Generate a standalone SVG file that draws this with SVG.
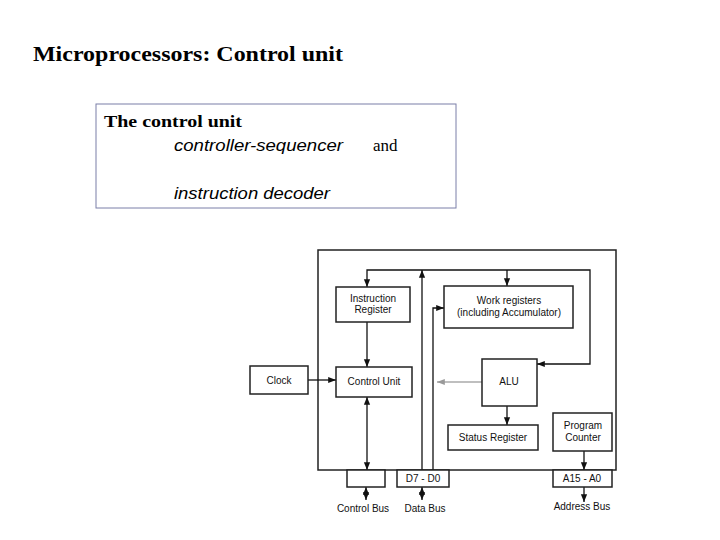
<svg xmlns="http://www.w3.org/2000/svg" width="720" height="540" viewBox="0 0 720 540">
<defs>
<marker id="a" viewBox="0 0 10 10" refX="10" refY="5" markerWidth="6" markerHeight="6" orient="auto-start-reverse"><path d="M0,1 L10,5 L0,9 z" fill="#111"/></marker>
<marker id="g" viewBox="0 0 10 10" refX="10" refY="5" markerWidth="6" markerHeight="6" orient="auto"><path d="M0,1 L10,5 L0,9 z" fill="#999"/></marker>
<style>
.s{font-family:"Liberation Serif",serif;fill:#000}
.i{font-family:"Liberation Sans",Arial,sans-serif;font-style:italic;font-size:16px;fill:#000}
.b{fill:#fff;stroke:#222;stroke-width:1.5}
.t{font-family:"Liberation Sans",Arial,sans-serif;font-size:10px;fill:#111;text-anchor:middle}
.l{fill:none;stroke:#111;stroke-width:1.3}
</style>
</defs>
<rect width="720" height="540" fill="#fff"/>
<text class="s" x="33" y="61" font-size="22" font-weight="bold" textLength="310" lengthAdjust="spacingAndGlyphs">Microprocessors: Control unit</text>
<rect x="96" y="104" width="360" height="104" fill="#fff" stroke="#7b7fa8" stroke-width="1"/>
<text class="s" x="104" y="127" font-size="17" font-weight="bold" textLength="138" lengthAdjust="spacingAndGlyphs">The control unit</text>
<text class="i" x="174" y="151" textLength="169" lengthAdjust="spacingAndGlyphs">controller-sequencer</text>
<text class="s" x="373" y="151" font-size="17">and</text>
<text class="i" x="174" y="199" textLength="156" lengthAdjust="spacingAndGlyphs">instruction decoder</text>
<g id="outer"><rect x="318" y="250" width="298" height="220" fill="none" stroke="#222" stroke-width="1.5"/></g>
<g id="connectors">
<polyline class="l" points="367,287 367,270 590,270 590,364 537,364" marker-end="url(#a)" marker-start="url(#a)"/>
<line class="l" x1="507" y1="270" x2="507" y2="286" marker-end="url(#a)"/>
<line class="l" x1="422" y1="470" x2="422" y2="270" marker-end="url(#a)"/>
<polyline class="l" points="433,470 433,308 444,308" marker-end="url(#a)"/>
<line class="l" x1="367" y1="322" x2="367" y2="367" marker-end="url(#a)"/>
<line class="l" x1="367" y1="397" x2="367" y2="470" marker-end="url(#a)" marker-start="url(#a)"/>
<line class="l" x1="308" y1="380" x2="336" y2="380" marker-end="url(#a)"/>
<line x1="482" y1="382" x2="437" y2="382" stroke="#aaa" stroke-width="1.3" marker-end="url(#g)"/>
<line class="l" x1="507" y1="406" x2="507" y2="425" marker-end="url(#a)"/>
<line class="l" x1="584" y1="451" x2="584" y2="470" marker-end="url(#a)"/>
<line class="l" x1="366" y1="487" x2="366" y2="500" marker-end="url(#a)" marker-start="url(#a)"/>
<line class="l" x1="422" y1="487" x2="422" y2="500" marker-end="url(#a)" marker-start="url(#a)"/>
<line class="l" x1="584" y1="487" x2="584" y2="502" marker-end="url(#a)"/>
</g>
<g id="ir"><rect class="b" x="336" y="287" width="74" height="35" stroke-width="1"/><text class="t" x="373" y="302">Instruction</text><text class="t" x="373" y="313">Register</text></g>
<g id="work"><rect class="b" x="444" y="286" width="129" height="42"/><text class="t" x="509" y="304">Work registers</text><text class="t" x="509" y="316">(including Accumulator)</text></g>
<g id="clock"><rect class="b" x="250" y="366" width="58" height="28" stroke-width="1"/><text class="t" x="279" y="384">Clock</text></g>
<g id="cu"><rect class="b" x="336" y="367" width="76" height="30"/><text class="t" x="374" y="385">Control Unit</text></g>
<g id="alu"><rect class="b" x="482" y="359" width="55" height="47"/><text class="t" x="509" y="385">ALU</text></g>
<g id="status"><rect class="b" x="448" y="425" width="90" height="25" stroke-width="1"/><text class="t" x="493" y="441">Status Register</text></g>
<g id="pc"><rect class="b" x="553" y="413" width="59" height="38"/><text class="t" x="583" y="429">Program</text><text class="t" x="583" y="441">Counter</text></g>
<g id="cbox"><rect class="b" x="347" y="470" width="38" height="17" stroke-width="1"/></g>
<g id="dbox"><rect class="b" x="397" y="470" width="52" height="17" stroke-width="1"/><text class="t" x="423" y="482">D7 - D0</text></g>
<g id="abox"><rect class="b" x="553" y="470" width="59" height="17" stroke-width="1"/><text class="t" x="582" y="482">A15 - A0</text></g>
<text class="t" x="363" y="512">Control Bus</text>
<text class="t" x="425" y="512">Data Bus</text>
<text class="t" x="582" y="510">Address Bus</text>
</svg>
